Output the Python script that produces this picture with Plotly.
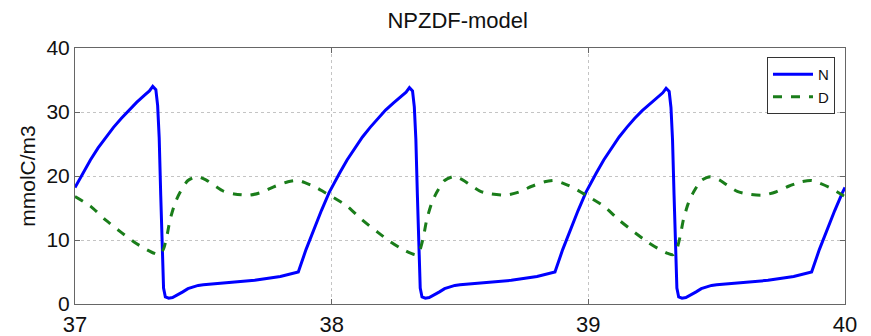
import plotly.graph_objects as go

# Time within each simulated year (fraction of a year)
phase_N = [0.00, 0.03, 0.06, 0.09, 0.12, 0.15, 0.18, 0.21, 0.24, 0.27, 0.29,
           0.303, 0.315, 0.322, 0.328, 0.334, 0.340, 0.345, 0.352, 0.365, 0.38,
           0.40, 0.42, 0.44, 0.46, 0.48, 0.50, 0.60, 0.70, 0.80, 0.87, 0.90,
           0.93, 0.96, 0.99]
phase_D = [0.00, 0.06, 0.12, 0.18, 0.23, 0.27, 0.31, 0.33, 0.345, 0.36, 0.37,
           0.39, 0.41, 0.44, 0.475, 0.51, 0.54, 0.58, 0.62, 0.68, 0.73, 0.78,
           0.83, 0.87, 0.90, 0.94, 0.97]

years = [37, 38, 39]

# Nutrient concentration (mmolC/m3), one list per year
N_year = {
    37: [18.2, 20.4, 22.5, 24.4, 26.1, 27.6, 29.0, 30.3, 31.5, 32.6, 33.3,
         34.0, 33.5, 31.0, 26.0, 17.0, 7.5, 2.5, 1.1, 0.9, 1.0,
         1.4, 1.9, 2.4, 2.7, 2.9, 3.0, 3.3, 3.7, 4.3, 5.0, 8.5,
         11.7, 14.6, 17.4],
    38: [18.2, 20.4, 22.5, 24.4, 26.1, 27.6, 29.0, 30.3, 31.4, 32.5, 33.1,
         33.8, 33.3, 30.8, 25.8, 17.0, 7.5, 2.5, 1.1, 0.9, 1.0,
         1.4, 1.9, 2.4, 2.7, 2.9, 3.0, 3.3, 3.7, 4.3, 5.0, 8.5,
         11.7, 14.6, 17.4],
    39: [18.2, 20.4, 22.5, 24.4, 26.1, 27.6, 29.0, 30.2, 31.3, 32.4, 33.0,
         33.7, 33.2, 30.7, 25.7, 17.0, 7.5, 2.5, 1.1, 0.9, 1.0,
         1.4, 1.9, 2.4, 2.7, 2.9, 3.0, 3.3, 3.7, 4.3, 5.0, 8.5,
         11.7, 14.6, 17.4],
}
N_end = 18.2  # value at t = 40

# Detritus concentration (mmolC/m3), one list per year
D_cycle = [16.8, 15.3, 13.1, 11.2, 9.7, 8.7, 7.9, 7.7, 8.6, 11.0, 13.1,
           15.8, 17.5, 19.3, 19.9, 19.4, 18.6, 17.6, 17.2, 17.0, 17.5, 18.4,
           19.1, 19.3, 18.9, 18.2, 17.5]
D_year = {37: D_cycle, 38: D_cycle, 39: D_cycle}
D_end = 16.8

x_ticks = [37, 38, 39, 40]
y_ticks = [0, 10, 20, 30, 40]

tN, N = [], []
tD, D = [], []
for yr in years:
    tN += [yr + p for p in phase_N]
    N += N_year[yr]
    tD += [yr + p for p in phase_D]
    D += D_year[yr]
tN.append(40)
N.append(N_end)
tD.append(40)
D.append(D_end)

font = "Arial, Liberation Sans, sans-serif"

fig = go.Figure()
fig.add_trace(go.Scatter(x=tN, y=N, mode="lines", name="N",
                         line=dict(color="#0000ff", width=3)))
fig.add_trace(go.Scatter(x=tD, y=D, mode="lines", name="D",
                         line=dict(color="#1a7d1a", width=3, dash="dash",
                                   shape="spline", smoothing=0.7)))

axis_common = dict(
    showline=True, linecolor="#666666", linewidth=1, mirror="ticks",
    ticks="inside", ticklen=5, tickcolor="#666666", automargin=False,
    showgrid=True, gridcolor="#c4c4c4", griddash="dot", gridwidth=1,
    zeroline=False,
)

fig.update_layout(
    width=871, height=336,
    margin=dict(l=75, r=26, t=48, b=32),
    paper_bgcolor="white", plot_bgcolor="white",
    title=dict(text="NPZDF-model", xref="paper", x=0.497, xanchor="center",
               yref="container", y=0.94, yanchor="middle",
               font=dict(family=font, size=22, color="#111111")),
    xaxis=dict(range=[37, 40], tickvals=x_ticks, ticklabelstandoff=1,
               tickfont=dict(family=font, size=22, color="#111111"), **axis_common),
    yaxis=dict(range=[0, 40], tickvals=y_ticks,
               tickfont=dict(family=font, size=21, color="#111111"),
               title=dict(text="mmolC/m3", font=dict(family=font, size=21, color="#111111"),
                          standoff=5),
               **axis_common),
    legend=dict(x=0.987, y=0.965, xanchor="right", yanchor="top",
                bordercolor="#333333", borderwidth=1, bgcolor="white",
                font=dict(family=font, size=15, color="#111111"),
                tracegroupgap=0, itemwidth=40),
    showlegend=True,
)

fig.write_html("out.html")
